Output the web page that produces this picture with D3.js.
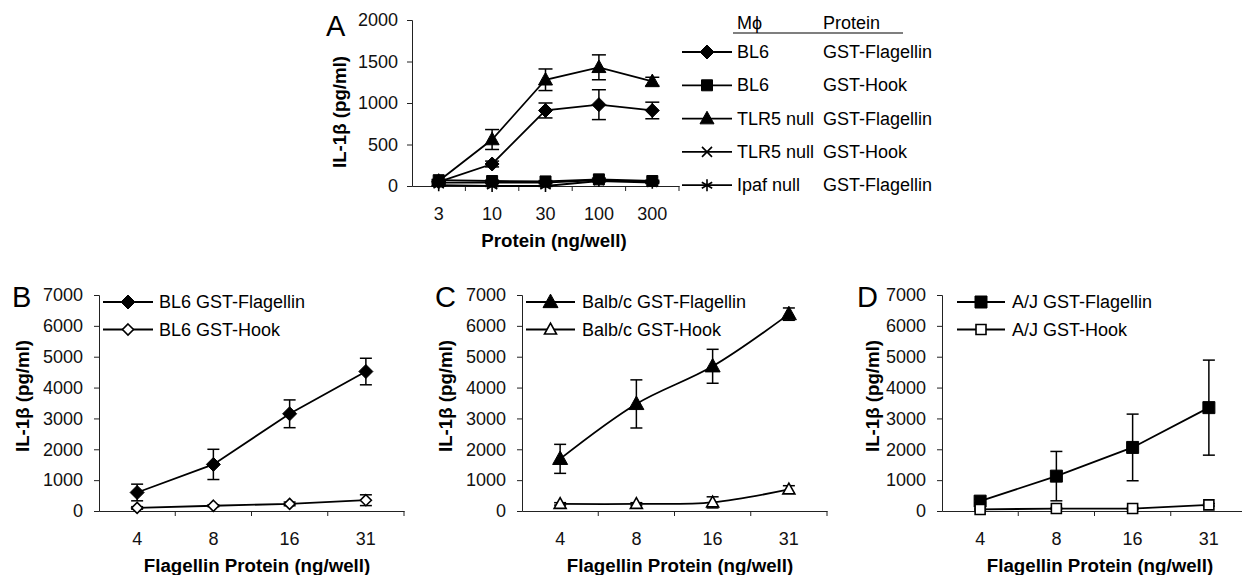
<!DOCTYPE html>
<html>
<head>
<meta charset="utf-8">
<script src="https://cdn.jsdelivr.net/npm/d3@7"></script>
<style>
  body { margin: 0; background: #fff; }
  svg { display: block; font-family: "Liberation Sans", Arial, sans-serif; }
</style>
</head>
<body>
<div id="chart"></div>
<script>
// panel A: IL-1b vs protein dose, five macrophage/protein combos
const doseA = ['3', '10', '30', '100', '300']
const ticksA = [0, 500, 1000, 1500, 2000]
const bl6FlagellinA = [50, 265, 910, 980, 910]
const bl6FlagellinAErr = [15, 35, 90, 180, 100]
const bl6HookA = [70, 60, 55, 80, 60]
const bl6HookAErr = [10, 10, 10, 15, 10]
const tlr5FlagellinA = [60, 560, 1280, 1430, 1260]
const tlr5FlagellinAErr = [15, 120, 130, 150, 50]
const tlr5HookA = [40, 40, 40, 70, 50]
const tlr5HookAErr = [10, 10, 10, 10, 10]
const ipafFlagellinA = [10, 0, 0, 60, 40]
const ipafFlagellinAErr = [5, 5, 5, 10, 10]

// panels B-D: flagellin dose
const doseBCD = ['4', '8', '16', '31']
const ticksBCD = [0, 1000, 2000, 3000, 4000, 5000, 6000, 7000]
const bl6FlagellinB = [600, 1510, 3150, 4520]
const bl6FlagellinBErr = [270, 490, 450, 430]
const bl6HookB = [100, 170, 230, 350]
const bl6HookBErr = [40, 30, 60, 175]
const balbFlagellinC = [1690, 3470, 4690, 6380]
const balbFlagellinCErr = [470, 780, 550, 200]
const balbHookC = [230, 230, 280, 700]
const balbHookCErr = [40, 40, 180, 120]
const ajFlagellinD = [320, 1130, 2060, 3350]
const ajFlagellinDErr = [60, 800, 1080, 1540]
const ajHookD = [50, 80, 80, 200]
const ajHookDErr = [20, 20, 30, 40]

const W = 1242, H = 575
const svg = d3.select('#chart').append('svg')
    .attr('width', W)
    .attr('height', H)

// marker shapes, s = half size
function markerPath(shape, s) {
    if (shape === 'diamond') return `M0,${-s}L${s},0L0,${s}L${-s},0Z`
    if (shape === 'square') return `M${-s},${-s}H${s}V${s}H${-s}Z`
    if (shape === 'triangle') return `M0,${-s * 1.05}L${s},${s * 0.75}L${-s},${s * 0.75}Z`
    if (shape === 'times') return `M${-s},${-s}L${s},${s}M${s},${-s}L${-s},${s}`
    if (shape === 'asterisk') {
        let p = ''
        for (let a of [0, 60, 120]) {
            const r = a * Math.PI / 180
            const dx = Math.sin(r) * s, dy = Math.cos(r) * s
            p += `M${-dx},${-dy}L${dx},${dy}`
        }
        return p
    }
}

function drawMarker(g, shape, filled, s, cx, cy) {
    const stroked = shape === 'times' || shape === 'asterisk'
    g.append('path')
        .attr('transform', `translate(${cx},${cy})`)
        .attr('d', markerPath(shape, s))
        .attr('fill', stroked ? 'none' : (filled ? '#000' : '#fff'))
        .attr('stroke', '#000')
        .attr('stroke-width', stroked ? 1.6 : (filled ? 1 : 1.6))
}

function drawPanel(p) {
    const g = svg.append('g')
    const x = d3.scaleBand().domain(p.doses).range([p.x0, p.x1])
    const y = d3.scaleLinear().domain([0, p.yMax]).range([p.y0, p.y1])

    // y axis
    const ya = g.append('g')
        .attr('transform', 'translate(' + p.x0 + ',0)')
        .call(d3.axisLeft(y).tickValues(p.yTicks).tickSize(5).tickPadding(p.pad).tickFormat(d3.format('d')))
    ya.select('.domain').attr('stroke', '#222')
    ya.selectAll('.tick line').attr('stroke', '#222')
    ya.selectAll('text').attr('font-size', 18).attr('fill', '#111')
        .attr('font-family', '"Liberation Sans", Arial, sans-serif')

    // x axis: labels in band centres, ticks on band edges
    const xa = g.append('g')
        .attr('transform', 'translate(0,' + p.y0 + ')')
        .call(d3.axisBottom(x).tickSize(0).tickSizeOuter(0).tickPadding(21))
    xa.select('.domain').attr('stroke', '#222')
    xa.selectAll('text').attr('font-size', 18).attr('fill', '#111')
        .attr('font-family', '"Liberation Sans", Arial, sans-serif')
    const edges = p.doses.map(d => x(d)).concat([x(p.doses[p.doses.length - 1]) + x.step()])
    xa.selectAll('.edge').data(edges.slice(1)).enter().append('line')
        .attr('x1', d => d).attr('x2', d => d)
        .attr('y1', 0).attr('y2', 5)
        .attr('stroke', '#222')

    // titles
    g.append('text')
        .attr('transform', `translate(${p.yLabelX},${p.yLabelY}) rotate(-90)`)
        .attr('text-anchor', 'middle')
        .attr('dominant-baseline', 'central')
        .attr('font-weight', 'bold')
        .attr('font-size', 18.7)
        .text('IL-1\u03B2 (pg/ml)')
    g.append('text')
        .attr('x', p.xLabelX).attr('y', p.xLabelY)
        .attr('text-anchor', 'middle')
        .attr('font-weight', 'bold')
        .attr('font-size', 18.7)
        .text(p.xLabel)
    g.append('text')
        .attr('x', p.letterX).attr('y', p.letterY)
        .attr('font-size', 29)
        .text(p.letter)

    const cx = d => x(d) + x.bandwidth() / 2
    const line = d3.line().curve(p.curve)

    p.series.forEach(s => {
        const pts = p.doses.map((d, i) => [cx(d), y(s.values[i])])
        // error bars
        p.doses.forEach((d, i) => {
            const e = s.err[i]
            const hi = y(s.values[i] + e), lo = y(s.values[i] - e)
            g.append('line').attr('x1', cx(d)).attr('x2', cx(d))
                .attr('y1', hi).attr('y2', lo)
                .attr('stroke', '#000').attr('stroke-width', 1.5)
            ;[hi, lo].forEach(v => {
                g.append('line').attr('x1', cx(d) - p.cap / 2).attr('x2', cx(d) + p.cap / 2)
                    .attr('y1', v).attr('y2', v)
                    .attr('stroke', '#000').attr('stroke-width', 1.5)
            })
        })
        g.append('path').attr('d', line(pts))
            .attr('fill', 'none').attr('stroke', '#000').attr('stroke-width', 1.8)
        pts.forEach(pt => drawMarker(g, s.shape, s.filled, s.size, pt[0], pt[1]))
    })

    // legend
    p.series.forEach((s, i) => {
        const ly = p.legY + i * p.legStep
        g.append('line').attr('x1', p.legX0).attr('x2', p.legX1)
            .attr('y1', ly).attr('y2', ly)
            .attr('stroke', '#000').attr('stroke-width', 1.8)
        drawMarker(g, s.shape, s.filled, s.size, (p.legX0 + p.legX1) / 2, ly)
        s.labels.forEach((t, j) => {
            g.append('text')
                .attr('x', p.legText[j]).attr('y', ly)
                .attr('dominant-baseline', 'central')
                .attr('font-size', 18)
                .text(t)
        })
    })
    return g
}

const gA = drawPanel({
    doses: doseA, yMax: 2000, yTicks: ticksA,
    x0: 412, x1: 679, y0: 186, y1: 20, pad: 9, cap: 14,
    yLabelX: 339, yLabelY: 112,
    xLabel: 'Protein (ng/well)', xLabelX: 554, xLabelY: 247,
    letter: 'A', letterX: 326, letterY: 36,
    curve: d3.curveLinear,
    legX0: 682, legX1: 732, legY: 52, legStep: 33.3, legText: [737, 823],
    series: [
        { values: bl6FlagellinA, err: bl6FlagellinAErr, shape: 'diamond', filled: true, size: 7, labels: ['BL6', 'GST-Flagellin'] },
        { values: bl6HookA, err: bl6HookAErr, shape: 'square', filled: true, size: 5.5, labels: ['BL6', 'GST-Hook'] },
        { values: tlr5FlagellinA, err: tlr5FlagellinAErr, shape: 'triangle', filled: true, size: 7, labels: ['TLR5 null', 'GST-Flagellin'] },
        { values: tlr5HookA, err: tlr5HookAErr, shape: 'times', filled: true, size: 5, labels: ['TLR5 null', 'GST-Hook'] },
        { values: ipafFlagellinA, err: ipafFlagellinAErr, shape: 'asterisk', filled: true, size: 6, labels: ['Ipaf null', 'GST-Flagellin'] }
    ]
})
// legend header of panel A
gA.append('text').attr('x', 737).attr('y', 29).attr('font-size', 18).text('M\u03D5')
gA.append('text').attr('x', 823).attr('y', 29).attr('font-size', 18).text('Protein')
gA.append('line').attr('x1', 733).attr('x2', 903).attr('y1', 33).attr('y2', 33)
    .attr('stroke', '#000').attr('stroke-width', 1.2)

const common = {
    doses: doseBCD, yMax: 7000, yTicks: ticksBCD,
    y0: 511, y1: 295, pad: 11, cap: 12,
    yLabelY: 396, xLabel: 'Flagellin Protein (ng/well)', xLabelY: 572,
    letterY: 307, curve: d3.curveLinear,
    legY: 302, legStep: 27.5
}

drawPanel(Object.assign({}, common, {
    x0: 99, x1: 404, yLabelX: 22, xLabelX: 257, letter: 'B', letterX: 12,
    legX0: 103, legX1: 153, legText: [159],
    series: [
        { values: bl6FlagellinB, err: bl6FlagellinBErr, shape: 'diamond', filled: true, size: 7, labels: ['BL6 GST-Flagellin'] },
        { values: bl6HookB, err: bl6HookBErr, shape: 'diamond', filled: false, size: 5.5, labels: ['BL6 GST-Hook'] }
    ]
}))

drawPanel(Object.assign({}, common, {
    x0: 522, x1: 827, yLabelX: 445, xLabelX: 680, letter: 'C', letterX: 435,
    curve: d3.curveCatmullRom.alpha(0.5),
    legX0: 526, legX1: 575, legText: [582],
    series: [
        { values: balbFlagellinC, err: balbFlagellinCErr, shape: 'triangle', filled: true, size: 7.5, labels: ['Balb/c GST-Flagellin'] },
        { values: balbHookC, err: balbHookCErr, shape: 'triangle', filled: false, size: 6, labels: ['Balb/c GST-Hook'] }
    ]
}))

drawPanel(Object.assign({}, common, {
    x0: 942, x1: 1247, yLabelX: 872, xLabelX: 1100, letter: 'D', letterX: 857,
    legX0: 957, legX1: 1005, legText: [1012],
    series: [
        { values: ajFlagellinD, err: ajFlagellinDErr, shape: 'square', filled: true, size: 6, labels: ['A/J GST-Flagellin'] },
        { values: ajHookD, err: ajHookDErr, shape: 'square', filled: false, size: 5, labels: ['A/J GST-Hook'] }
    ]
}))
</script>
</body>
</html>
